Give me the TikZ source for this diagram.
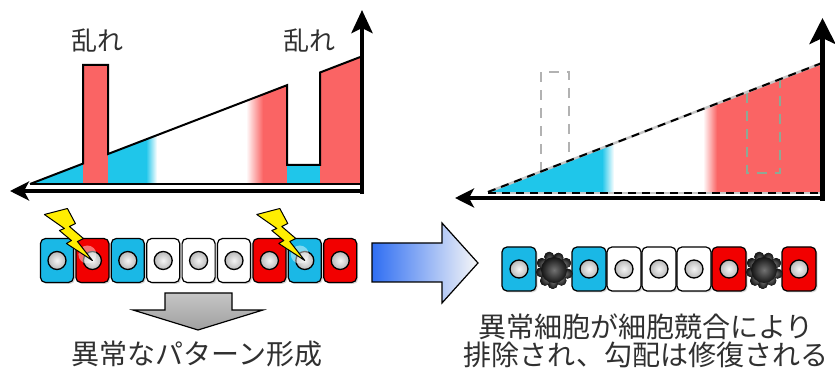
\documentclass[tikz,border=0pt]{standalone}
\usepackage{fontspec}
\newfontfamily\jp{Noto Sans CJK JP}
\usetikzlibrary{arrows.meta,shadows,calc}

\definecolor{gcyan}{HTML}{1FC6EA}
\definecolor{gred}{HTML}{FA6464}
\definecolor{ccyan}{HTML}{1AB8E6}
\definecolor{cred}{HTML}{F20000}
\definecolor{arrowblue}{HTML}{2F6EF2}
\definecolor{ghostgreen}{HTML}{8FA894}
\definecolor{txt}{HTML}{303030}

\tikzset{
  cellbox/.style={draw=black, line width=1.2pt, rounded corners=5pt,
    minimum width=33pt, minimum height=44pt, inner sep=0pt,
    drop shadow={shadow xshift=1.5pt, shadow yshift=-1.5pt, opacity=0.3}},
  nucleus/.style={circle, draw=black, line width=1.3pt, minimum size=18pt,
    inner sep=0pt, inner color=gray!8, outer color=gray!55},
  blobcore/.style={circle, minimum size=26pt, inner sep=0pt,
    inner color=black!55, outer color=black!92},
  bump/.style={inner color=black!50, outer color=black!90},
  axisline/.style={line width=4.5pt, line cap=butt},
  smallhead/.style={-{Stealth[length=19pt, width=19pt, inset=5pt]}},
  bighead/.style={-{Stealth[length=26pt, width=26pt, inset=6pt]}},
  midhead/.style={-{Stealth[length=23pt, width=21pt, inset=5pt]}},
  outline/.style={line width=2pt, line join=miter},
  bolt/.style={fill=yellow!95!orange, draw=black, line width=1pt, line join=round},
  jplabel/.style={font=\jp\fontsize{26}{30}\selectfont, text=txt, inner sep=0pt},
  jpcaption/.style={font=\jp\fontsize{28}{32}\selectfont, text=txt, inner sep=0pt},
  ghost/.style={line width=1.4pt, dash pattern=on 10pt off 8pt},
  dashblack/.style={line width=2pt, dash pattern=on 8pt off 6pt},
}

\begin{document}
\begin{tikzpicture}[x=1pt, y=-1pt]
\useasboundingbox (0,0) rectangle (835,371);
\fill[white] (0,0) rectangle (835,371);

% ---------- left profile with disturbances ----------
\begin{scope}
  \clip (30,184) -- (287,85.2) -- (287,165) -- (320,165) -- (320,72.5) -- (360,57.1) -- (360,184) -- cycle;
  \fill[gcyan] (28,50) rectangle (146,190);
  \shade[left color=gcyan, right color=white] (146,50) rectangle (157,190);
  \fill[white] (157,50) rectangle (246,190);
  \shade[left color=white, right color=gred] (246,50) rectangle (263,190);
  \fill[gred] (263,50) rectangle (362,190);
\end{scope}
\fill[gred] (83,65) rectangle (108,184);
\fill[gcyan] (287,165) rectangle (320,184);
\draw[outline] (30,184) -- (83,163.6) -- (83,65) -- (108,65) -- (108,154)
  -- (287,85.2) -- (287,165) -- (320,165) -- (320,72.5) -- (360,57.1);
\draw[line width=1.8pt] (30,184) -- (360,184);

\coordinate (LO) at (362,194);
\coordinate (LY) at (362,10);
\coordinate (LC) at (364.2,191);
\coordinate (LX) at (10,191);
\draw[axisline, midhead] (LO) -- (LY);
\draw[axisline, smallhead] (LC) -- (LX);

\node[jplabel] (dis1) at (97,41) {乱れ};
\node[jplabel] (dis2) at (309,41) {乱れ};

% ---------- left row of cells ----------
\foreach \c [count=\i] in {ccyan,cred,ccyan,white,white,white,cred,ccyan,cred} {
  \node[cellbox, fill=\c] (L\i) at ({57+35.4*(\i-1)},260.5) {};
  \node[nucleus] (n\i) at (L\i.center) {};
}

% lightning strikes on two cells
\foreach \k in {2,8} {
  \fill[white, opacity=0.45] (n\k.center) ++(-5,-6) circle (9);
  \draw[bolt, shift={(n\k.center)}] (0,0) -- (-26,-17) -- (-21,-20) -- (-33,-30)
    -- (-28,-32) -- (-48,-46) -- (-25,-52) -- (-17,-37) -- (-23,-34)
    -- (-9,-22) -- (-15,-19) -- cycle;
}

% down arrow
\shade[top color=gray!45, bottom color=gray!75, draw=black, line width=1.2pt, line join=miter]
  (165,293) -- (232,293) -- (232,310) -- (263,310) -- (198,330) -- (133,310) -- (165,310) -- cycle;

\node[jpcaption] (cap1) at (197,353.5) {異常なパターン形成};

% right arrow
\shade[left color=arrowblue, middle color=blue!12!white, right color=gray!6,
       draw=black, line width=1.2pt, line join=miter]
  (372,243) -- (442,243) -- (442,223) -- (478,263) -- (442,303) -- (442,282) -- (372,282) -- cycle;

% ---------- right profile, restored ----------
\begin{scope}
  \clip (488,192) -- (822,63) -- (822,192) -- cycle;
  \fill[gcyan] (480,50) rectangle (602,200);
  \shade[left color=gcyan, right color=white] (602,50) rectangle (614,200);
  \fill[white] (614,50) rectangle (703,200);
  \shade[left color=white, right color=gred] (703,50) rectangle (717,200);
  \fill[gred] (717,50) rectangle (830,200);
\end{scope}
\draw[ghost, gray!60] (541,172) -- (541,72) -- (569,72) -- (569,160.7);
\draw[ghost, ghostgreen] (747,92.6) -- (747,173) -- (780,173) -- (780,79.3);
\draw[line width=2.4pt, gray!45] (488,192) -- (822,63);
\draw[dashblack] (488,192) -- (822,63);
\draw[line width=2.4pt, gray!45] (488,193) -- (822,193);
\draw[dashblack] (488,193) -- (822,193);

\coordinate (RO) at (822.5,201);
\coordinate (RY) at (822.5,18);
\coordinate (RC) at (824.7,198);
\coordinate (RX) at (455,198);
\draw[axisline, bighead] (RO) -- (RY);
\draw[axisline, smallhead] (RC) -- (RX);

% ---------- right row of cells ----------
\foreach \c/\i in {ccyan/1,ccyan/3,white/4,white/5,white/6,cred/7,cred/9} {
  \node[cellbox, fill=\c, minimum width=34pt] (R\i) at ({519+35*(\i-1)},269) {};
  \node[nucleus] (m\i) at (R\i.center) {};
}
% eliminated cells
\foreach \i in {2,8} {
  \coordinate (B\i) at ({519+35*(\i-1)},270);
  \foreach \a/\r in {95/14, 130/14, 170/13, 210/14, 250/14, 290/13, 330/14, 15/14, 55/13}
    \fill[bump] (B\i) ++(\a:\r) circle (5);
  \node[blobcore] (dead\i) at (B\i) {};
}

\node[jpcaption] (cap2) at (646,326.5) {異常細胞が細胞競合により};
\node[jpcaption] (cap3) at (646,354.5) {排除され、勾配は修復される};
\end{tikzpicture}
\end{document}
